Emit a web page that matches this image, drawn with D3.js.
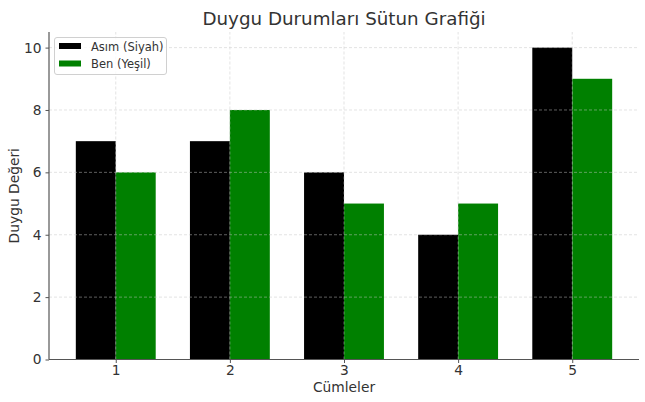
<!DOCTYPE html>
<html><head><meta charset="utf-8">
<script src="https://cdn.jsdelivr.net/npm/d3@7"></script>
<style>body{margin:0;background:#fff}svg{font-family:"DejaVu Sans",sans-serif}</style>
</head><body>
<script>
const categories = [1, 2, 3, 4, 5];
const asim = [7, 7, 6, 4, 10];
const ben = [6, 8, 5, 5, 9];
const seriesNames = ["Asım (Siyah)", "Ben (Yeşil)"];
const seriesColors = ["#000000", "#008000"];
const yTicks = [0, 2, 4, 6, 8, 10];

const W = 645, H = 402;
const m = {left: 49, right: 6, top: 32, bottom: 42.5};
const svg = d3.select("body").append("svg").attr("width", W).attr("height", H);
const x = d3.scaleLinear().domain([0.415, 5.585]).range([m.left, W - m.right]);
const y = d3.scaleLinear().domain([0, 10.5]).range([H - m.bottom, m.top]);
const bw = 0.35;
const txt = "#333";
const g = svg.append("g");

const series = [asim, ben];
series.forEach((vals, si) => {
  g.selectAll(null).data(vals).enter().append("rect")
    .attr("x", (d, i) => x(categories[i] + (si === 0 ? -bw : 0)))
    .attr("width", (d, i) => x(categories[i] + bw) - x(categories[i]))
    .attr("y", d => y(d))
    .attr("height", d => y(0) - y(d))
    .attr("fill", seriesColors[si]);
});

// grid
const grid = svg.append("g").attr("stroke", "#c8c8c8").attr("stroke-width", 0.6)
  .attr("stroke-dasharray", "3,2").attr("opacity", 0.8);
categories.forEach(c => grid.append("line").attr("x1", x(c)).attr("x2", x(c)).attr("y1", y(0)).attr("y2", m.top));
yTicks.forEach(t => grid.append("line").attr("x1", m.left).attr("x2", W - m.right).attr("y1", y(t)).attr("y2", y(t)));

// axes
const xa = svg.append("g").attr("transform", `translate(0,${y(0)})`)
  .call(d3.axisBottom(x).tickValues(categories).tickFormat(d3.format("d")).tickSize(3.5).tickPadding(2));
const ya = svg.append("g").attr("transform", `translate(${m.left},0)`)
  .call(d3.axisLeft(y).tickValues(yTicks).tickSize(3.5).tickPadding(4));
[xa, ya].forEach(a => {
  a.select(".domain").attr("stroke", "#555").attr("stroke-width", 1.2);
  a.selectAll(".tick line").attr("stroke", "#555");
  a.selectAll(".tick text").attr("fill", txt).attr("font-size", 13.8).attr("font-family", "DejaVu Sans");
});
ya.select(".domain").attr("d", `M0,${y(0)}V${m.top}`);
xa.select(".domain").attr("d", `M${m.left},0H${W - m.right}`);

// labels
svg.append("text").attr("x", (m.left + W - m.right) / 2).attr("y", 25).attr("text-anchor", "middle")
  .attr("font-size", 18.3).attr("fill", txt).text("Duygu Durumları Sütun Grafiği");
svg.append("text").attr("x", (m.left + W - m.right) / 2).attr("y", 392).attr("text-anchor", "middle")
  .attr("font-size", 13.8).attr("fill", txt).text("Cümleler");
svg.append("text").attr("transform", `translate(19,${(m.top + y(0)) / 2}) rotate(-90)`).attr("text-anchor", "middle")
  .attr("font-size", 13.8).attr("fill", txt).text("Duygu Değeri");

// legend
const lg = svg.append("g");
lg.append("rect").attr("x", 54.5).attr("y", 37.5).attr("width", 112).attr("height", 37).attr("rx", 2.5)
  .attr("fill", "#fff").attr("fill-opacity", 0.8).attr("stroke", "#d0d0d0");
seriesNames.forEach((n, i) => {
  lg.append("rect").attr("x", 59).attr("y", 43 + i * 17.5).attr("width", 22).attr("height", 6).attr("fill", seriesColors[i]);
  lg.append("text").attr("x", 91).attr("y", 50.5 + i * 17.5).attr("font-size", 11.5).attr("fill", txt).text(n);
});
</script>
</body></html>
